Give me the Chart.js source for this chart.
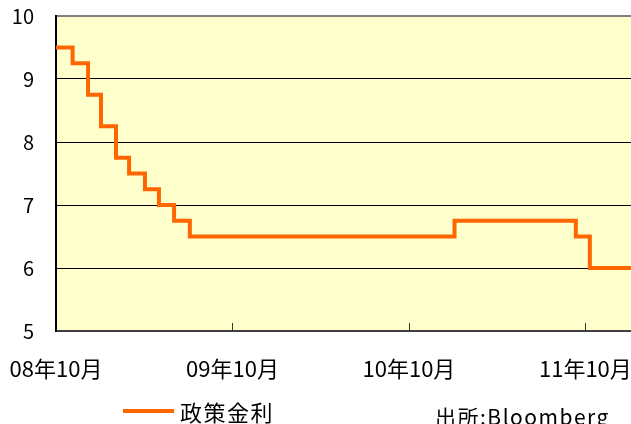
<!DOCTYPE html>
<html>
<head>
<meta charset="utf-8">
<script src="https://cdn.jsdelivr.net/npm/chart.js@4"></script>
<style>
  body { margin: 0; background: #fff; }
  #wrap { position: relative; width: 631px; height: 424px; overflow: hidden; }
  #legend { position: absolute; left: 123px; top: 400px; font: 22px/1 "Noto Sans CJK JP"; letter-spacing: 1.5px; color: #000; display: flex; align-items: center; }
  #legend span.sw { display: inline-block; width: 51px; height: 4px; background: #FF6600; margin-right: 6px; }
  #source { position: absolute; left: 435px; top: 406px; font: 21px/1 "Noto Sans CJK JP"; letter-spacing: 1.5px; color: #000; }
</style>
</head>
<body>
<div id="wrap">
  <canvas id="myChart" width="631" height="424"></canvas>
  <div id="legend"><span class="sw"></span>政策金利</div>
  <div id="source">出所:Bloomberg</div>
</div>
<script>
// 月数（グラフ左端からの経過月）と政策金利
const meses = [0, 1.13, 2.18, 3.06, 4.08, 4.97, 6.05, 7.0, 8.03, 9.1, 27.1, 35.35, 36.3, 39.1];
const taxa = [9.5, 9.25, 8.75, 8.25, 7.75, 7.5, 7.25, 7.0, 6.75, 6.5, 6.75, 6.5, 6.0, 6.0];
const tickMeses = [0, 12, 24, 36];
const tickLabels = ['08年10月', '09年10月', '10年10月', '11年10月'];

const fundo = {
  id: 'fundo',
  beforeDraw(chart) {
    const { ctx, chartArea: a } = chart;
    ctx.save();
    ctx.fillStyle = '#FFFFCC';
    ctx.fillRect(a.left, a.top, a.right - a.left, a.bottom - a.top);
    ctx.restore();
  },
  afterDatasetsDraw(chart) {
    // marcas do eixo x para dentro
    const { ctx, chartArea: a } = chart;
    const x = chart.scales.x;
    ctx.save();
    ctx.strokeStyle = '#333';
    ctx.lineWidth = 1;
    tickMeses.forEach(v => {
      if (v === 0) return;
      const px = Math.round(x.getPixelForValue(v)) + 0.5;
      ctx.beginPath();
      ctx.moveTo(px, a.bottom);
      ctx.lineTo(px, a.bottom - 8);
      ctx.stroke();
    });
    ctx.restore();
  }
};

new Chart(document.getElementById('myChart'), {
  type: 'line',
  data: {
    datasets: [{
      label: '政策金利',
      data: meses.map((m, i) => ({ x: m, y: taxa[i] })),
      borderColor: '#FF6600',
      borderWidth: 4,
      pointRadius: 0,
      stepped: 'before',
      fill: false
    }]
  },
  options: {
    responsive: false,
    animation: false,
    layout: { padding: { top: 16, right: 0, left: 0, bottom: 0 } },
    plugins: { legend: { display: false }, tooltip: { enabled: false } },
    scales: {
      x: {
        type: 'linear',
        min: 0,
        max: 39.1,
        afterBuildTicks: s => { s.ticks = tickMeses.map(v => ({ value: v })); },
        afterFit: s => { s.height = 93; s.paddingLeft = 0; s.paddingRight = 0; },
        ticks: {
          callback: v => tickLabels[tickMeses.indexOf(v)],
          font: { family: 'Noto Sans CJK JP', size: 22 },
          color: '#000',
          padding: 24,
          maxRotation: 0,
          autoSkip: false
        },
        grid: { display: false, drawTicks: false },
        border: { display: true, color: '#404040', width: 2 }
      },
      y: {
        min: 5,
        max: 10,
        afterFit: s => { s.width = 56; s.paddingTop = 0; s.paddingBottom = 0; },
        ticks: {
          stepSize: 1,
          font: { family: 'Noto Sans CJK JP', size: 20 },
          color: '#000',
          padding: 22
        },
        grid: {
          drawTicks: false,
          color: c => c.tick.value === 10 ? '#808080' : '#000',
          lineWidth: c => c.tick.value === 10 ? 2 : 1
        },
        border: { display: true, color: '#000', width: 2 }
      }
    }
  },
  plugins: [fundo]
});
</script>
</body>
</html>
